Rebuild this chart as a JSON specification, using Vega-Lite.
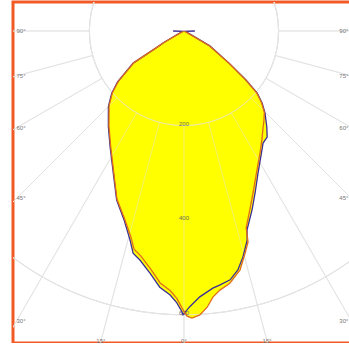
{
  "$schema": "https://vega.github.io/schema/vega-lite/v6.json",
  "width": 345,
  "height": 341,
  "autosize": {"type": "none"},
  "padding": {"left": 13, "top": 2, "right": 0, "bottom": 0},
  "background": "#ffffff",
  "config": {"view": {"stroke": "#f15a24", "strokeWidth": 3}},
  "datasets": {
    "curves": [
      {"c": "C0-C180", "g": -90, "i": 23},
      {"c": "C0-C180", "g": -80, "i": 3},
      {"c": "C0-C180", "g": -60, "i": 63},
      {"c": "C0-C180", "g": -54.3, "i": 120},
      {"c": "C0-C180", "g": -51.7, "i": 167},
      {"c": "C0-C180", "g": -49.7, "i": 203},
      {"c": "C0-C180", "g": -47.3, "i": 225},
      {"c": "C0-C180", "g": -44.6, "i": 244},
      {"c": "C0-C180", "g": -40.8, "i": 268},
      {"c": "C0-C180", "g": -38.1, "i": 285},
      {"c": "C0-C180", "g": -35.2, "i": 290},
      {"c": "C0-C180", "g": -33.2, "i": 301},
      {"c": "C0-C180", "g": -27.5, "i": 339},
      {"c": "C0-C180", "g": -23.7, "i": 374},
      {"c": "C0-C180", "g": -20.8, "i": 405},
      {"c": "C0-C180", "g": -17.6, "i": 441},
      {"c": "C0-C180", "g": -16.8, "i": 462},
      {"c": "C0-C180", "g": -14.6, "i": 494},
      {"c": "C0-C180", "g": -12.7, "i": 518},
      {"c": "C0-C180", "g": -10.5, "i": 535},
      {"c": "C0-C180", "g": -8.1, "i": 542},
      {"c": "C0-C180", "g": -6.4, "i": 547},
      {"c": "C0-C180", "g": -3.4, "i": 563},
      {"c": "C0-C180", "g": -1.2, "i": 583},
      {"c": "C0-C180", "g": 0.2, "i": 600},
      {"c": "C0-C180", "g": 0.4, "i": 594},
      {"c": "C0-C180", "g": 1.5, "i": 575},
      {"c": "C0-C180", "g": 3.0, "i": 559},
      {"c": "C0-C180", "g": 5.4, "i": 544},
      {"c": "C0-C180", "g": 8.0, "i": 517},
      {"c": "C0-C180", "g": 10.9, "i": 493},
      {"c": "C0-C180", "g": 12.9, "i": 482},
      {"c": "C0-C180", "g": 14.5, "i": 456},
      {"c": "C0-C180", "g": 17.6, "i": 419},
      {"c": "C0-C180", "g": 21.7, "i": 385},
      {"c": "C0-C180", "g": 26.4, "i": 336},
      {"c": "C0-C180", "g": 32.6, "i": 290},
      {"c": "C0-C180", "g": 38.3, "i": 258},
      {"c": "C0-C180", "g": 45.0, "i": 226},
      {"c": "C0-C180", "g": 49.2, "i": 202},
      {"c": "C0-C180", "g": 52.5, "i": 177},
      {"c": "C0-C180", "g": 57.7, "i": 127},
      {"c": "C0-C180", "g": 58.9, "i": 67},
      {"c": "C0-C180", "g": 60.3, "i": 51},
      {"c": "C0-C180", "g": 75, "i": 3},
      {"c": "C0-C180", "g": 90, "i": 23},
      {"c": "C90-C270", "g": -70, "i": 2},
      {"c": "C90-C270", "g": -60, "i": 62},
      {"c": "C90-C270", "g": -54.3, "i": 118},
      {"c": "C90-C270", "g": -51.7, "i": 165},
      {"c": "C90-C270", "g": -49.7, "i": 201},
      {"c": "C90-C270", "g": -47.3, "i": 223},
      {"c": "C90-C270", "g": -44.6, "i": 242},
      {"c": "C90-C270", "g": -41, "i": 257},
      {"c": "C90-C270", "g": -39.5, "i": 263},
      {"c": "C90-C270", "g": -35.6, "i": 283},
      {"c": "C90-C270", "g": -31.9, "i": 304},
      {"c": "C90-C270", "g": -27.7, "i": 332},
      {"c": "C90-C270", "g": -23.1, "i": 372},
      {"c": "C90-C270", "g": -20.2, "i": 403},
      {"c": "C90-C270", "g": -17.5, "i": 437},
      {"c": "C90-C270", "g": -16.9, "i": 466},
      {"c": "C90-C270", "g": -15.4, "i": 487},
      {"c": "C90-C270", "g": -13.2, "i": 519},
      {"c": "C90-C270", "g": -10.3, "i": 542},
      {"c": "C90-C270", "g": -7.9, "i": 553},
      {"c": "C90-C270", "g": -6.2, "i": 566},
      {"c": "C90-C270", "g": -4.8, "i": 586},
      {"c": "C90-C270", "g": -3.2, "i": 601},
      {"c": "C90-C270", "g": -1.6, "i": 607},
      {"c": "C90-C270", "g": -0.6, "i": 603},
      {"c": "C90-C270", "g": 0.4, "i": 586},
      {"c": "C90-C270", "g": 1.5, "i": 566},
      {"c": "C90-C270", "g": 3.0, "i": 550},
      {"c": "C90-C270", "g": 5.4, "i": 535},
      {"c": "C90-C270", "g": 8.0, "i": 508},
      {"c": "C90-C270", "g": 10.9, "i": 484},
      {"c": "C90-C270", "g": 12.9, "i": 473},
      {"c": "C90-C270", "g": 14.5, "i": 449},
      {"c": "C90-C270", "g": 17.6, "i": 416},
      {"c": "C90-C270", "g": 21.7, "i": 383},
      {"c": "C90-C270", "g": 26.4, "i": 334},
      {"c": "C90-C270", "g": 32.6, "i": 288},
      {"c": "C90-C270", "g": 38.3, "i": 256},
      {"c": "C90-C270", "g": 45.0, "i": 224},
      {"c": "C90-C270", "g": 49.2, "i": 200},
      {"c": "C90-C270", "g": 52.5, "i": 175},
      {"c": "C90-C270", "g": 57.7, "i": 125},
      {"c": "C90-C270", "g": 58.9, "i": 65},
      {"c": "C90-C270", "g": 60.3, "i": 49},
      {"c": "C90-C270", "g": 70, "i": 2}
    ],
    "circles": [{"r": 200}, {"r": 400}, {"r": 600}, {"r": 800}],
    "spokes": [
      {"a": -90}, {"a": -75}, {"a": -60}, {"a": -45}, {"a": -30}, {"a": -15}, {"a": 0},
      {"a": 15}, {"a": 30}, {"a": 45}, {"a": 60}, {"a": 75}, {"a": 90}
    ],
    "values": [{"v": 200}, {"v": 400}, {"v": 600}],
    "angles": [
      {"a": -90}, {"a": -75}, {"a": -60}, {"a": -45}, {"a": -30}, {"a": -15}, {"a": 0},
      {"a": 15}, {"a": 30}, {"a": 45}, {"a": 60}, {"a": 75}, {"a": 90}
    ]
  },
  "layer": [
    {
      "data": {"name": "circles"},
      "mark": {"type": "arc", "theta": 0, "theta2": 6.2832, "fillOpacity": 0, "stroke": "#e0e0e0", "strokeWidth": 1, "clip": true},
      "encoding": {
        "x": {"datum": 0, "type": "quantitative", "scale": {"domain": [-361.5, 367.9], "nice": false, "zero": false}, "axis": null},
        "y": {"datum": 0, "type": "quantitative", "scale": {"domain": [-659.6, 61.3], "nice": false, "zero": false}, "axis": null},
        "radius": {"field": "r", "type": "quantitative", "scale": {"type": "linear", "domain": [0, 1000], "range": [0, 473], "zero": true}}
      }
    },
    {
      "data": {"name": "spokes"},
      "transform": [
        {"calculate": "-200*sin(datum.a*PI/180)", "as": "x0"},
        {"calculate": "-200*cos(datum.a*PI/180)", "as": "y0"},
        {"calculate": "-1400*sin(datum.a*PI/180)", "as": "x1"},
        {"calculate": "-1400*cos(datum.a*PI/180)", "as": "y1"}
      ],
      "mark": {"type": "rule", "stroke": "#e0e0e0", "strokeWidth": 1, "clip": true},
      "encoding": {
        "x": {"field": "x0", "type": "quantitative", "scale": {"domain": [-361.5, 367.9], "nice": false, "zero": false}, "axis": null},
        "y": {"field": "y0", "type": "quantitative", "scale": {"domain": [-659.6, 61.3], "nice": false, "zero": false}, "axis": null},
        "x2": {"field": "x1"},
        "y2": {"field": "y1"}
      }
    },
    {
      "data": {"name": "curves"},
      "transform": [
        {"calculate": "-datum.i*sin(datum.g*PI/180)", "as": "x"},
        {"calculate": "-datum.i*cos(datum.g*PI/180)", "as": "y"}
      ],
      "mark": {"type": "line", "fill": "#ffff00", "strokeOpacity": 0, "clip": true},
      "encoding": {
        "x": {"field": "x", "type": "quantitative", "scale": {"domain": [-361.5, 367.9], "nice": false, "zero": false}, "axis": null},
        "y": {"field": "y", "type": "quantitative", "scale": {"domain": [-659.6, 61.3], "nice": false, "zero": false}, "axis": null},
        "detail": {"field": "c"},
        "order": {"field": "g", "type": "quantitative"}
      }
    },
    {
      "data": {"name": "circles"},
      "mark": {"type": "arc", "theta": 0, "theta2": 6.2832, "fillOpacity": 0, "stroke": "#e6e6e6", "strokeOpacity": 0.5, "strokeWidth": 1, "clip": true},
      "encoding": {
        "x": {"datum": 0, "type": "quantitative", "scale": {"domain": [-361.5, 367.9], "nice": false, "zero": false}, "axis": null},
        "y": {"datum": 0, "type": "quantitative", "scale": {"domain": [-659.6, 61.3], "nice": false, "zero": false}, "axis": null},
        "radius": {"field": "r", "type": "quantitative", "scale": {"type": "linear", "domain": [0, 1000], "range": [0, 473], "zero": true}}
      }
    },
    {
      "data": {"name": "spokes"},
      "transform": [
        {"calculate": "-200*sin(datum.a*PI/180)", "as": "x0"},
        {"calculate": "-200*cos(datum.a*PI/180)", "as": "y0"},
        {"calculate": "-1400*sin(datum.a*PI/180)", "as": "x1"},
        {"calculate": "-1400*cos(datum.a*PI/180)", "as": "y1"}
      ],
      "mark": {"type": "rule", "stroke": "#e6e6e6", "strokeOpacity": 0.5, "strokeWidth": 1, "clip": true},
      "encoding": {
        "x": {"field": "x0", "type": "quantitative", "scale": {"domain": [-361.5, 367.9], "nice": false, "zero": false}, "axis": null},
        "y": {"field": "y0", "type": "quantitative", "scale": {"domain": [-659.6, 61.3], "nice": false, "zero": false}, "axis": null},
        "x2": {"field": "x1"},
        "y2": {"field": "y1"}
      }
    },
    {
      "data": {"name": "values"},
      "transform": [
        {"calculate": "-datum.v", "as": "y"},
        {"calculate": "0", "as": "x"}
      ],
      "mark": {"type": "text", "font": "Liberation Sans", "fontSize": 6, "color": "#6b6b5a", "baseline": "middle", "align": "center", "dy": -2},
      "encoding": {
        "x": {"field": "x", "type": "quantitative", "scale": {"domain": [-361.5, 367.9], "nice": false, "zero": false}, "axis": null},
        "y": {"field": "y", "type": "quantitative", "scale": {"domain": [-659.6, 61.3], "nice": false, "zero": false}, "axis": null},
        "text": {"field": "v", "type": "quantitative"}
      }
    },
    {
      "data": {"name": "angles"},
      "transform": [
        {"calculate": "abs(datum.a) + '°'", "as": "lab"},
        {"calculate": "abs(datum.a) >= 30 ? (datum.a > 0 ? -344.6 : 338) : -656*tan(datum.a*PI/180)", "as": "x"},
        {"calculate": "abs(datum.a) >= 30 ? -354/tan(abs(datum.a)*PI/180) : -656", "as": "y"}
      ],
      "mark": {"type": "text", "font": "Liberation Sans", "fontSize": 6, "color": "#777777", "baseline": "middle", "align": "center"},
      "encoding": {
        "x": {"field": "x", "type": "quantitative", "scale": {"domain": [-361.5, 367.9], "nice": false, "zero": false}, "axis": null},
        "y": {"field": "y", "type": "quantitative", "scale": {"domain": [-659.6, 61.3], "nice": false, "zero": false}, "axis": null},
        "text": {"field": "lab", "type": "nominal"}
      }
    },
    {
      "data": {"name": "curves"},
      "transform": [
        {"calculate": "-datum.i*sin(datum.g*PI/180)", "as": "x"},
        {"calculate": "-datum.i*cos(datum.g*PI/180)", "as": "y"}
      ],
      "mark": {"type": "line", "strokeWidth": 1.3, "clip": true},
      "encoding": {
        "x": {"field": "x", "type": "quantitative", "scale": {"domain": [-361.5, 367.9], "nice": false, "zero": false}, "axis": null},
        "y": {"field": "y", "type": "quantitative", "scale": {"domain": [-659.6, 61.3], "nice": false, "zero": false}, "axis": null},
        "color": {"field": "c", "type": "nominal", "scale": {"domain": ["C90-C270", "C0-C180"], "range": ["#e06c1c", "#3b2f96"]}, "legend": null},
        "order": {"field": "g", "type": "quantitative"}
      }
    }
  ]
}
